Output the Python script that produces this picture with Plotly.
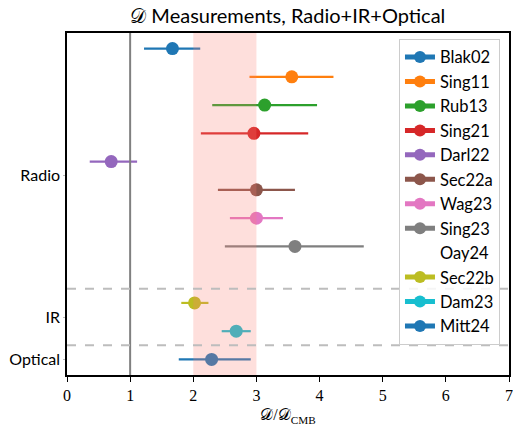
import plotly.graph_objects as go

labels = ["Blak02", "Sing11", "Rub13", "Sing21", "Darl22", "Sec22a", "Wag23",
          "Sing23", "Oay24", "Sec22b", "Dam23", "Mitt24"]
centers = [1.67, 3.56, 3.13, 2.96, 0.70, 3.00, 3.00, 3.61, None, 2.02, 2.68, 2.29]
err_lo = [0.45, 0.67, 0.83, 0.84, 0.34, 0.61, 0.42, 1.11, None, 0.21, 0.23, 0.52]
err_hi = [0.44, 0.66, 0.83, 0.86, 0.41, 0.61, 0.42, 1.09, None, 0.22, 0.23, 0.62]
rows = list(range(len(labels)))

group_names = ["Radio", "IR", "Optical"]
group_pos = [4.5, 9.5, 11]
separators = [8.5, 10.5]
band = [2, 3]
ref_line = 1

colors = ["#1f77b4", "#ff7f0e", "#2ca02c", "#d62728", "#9467bd", "#8c564b",
          "#e377c2", "#7f7f7f", "rgba(0,0,0,0)", "#bcbd22", "#17becf", "#1f77b4"]

fig = go.Figure()
for i, name in enumerate(labels):
    c = colors[i]
    x = [centers[i]] if centers[i] is not None else [None]
    fig.add_trace(go.Scatter(
        x=x, y=[rows[i]], name=name, mode="lines+markers",
        marker=dict(color=c, size=13),
        line=dict(color=c, width=2),
        error_x=dict(type="data", symmetric=False,
                     array=[err_hi[i] if err_hi[i] is not None else 0],
                     arrayminus=[err_lo[i] if err_lo[i] is not None else 0],
                     color=c, thickness=2.2, width=0),
    ))

fig.add_vrect(x0=band[0], x1=band[1], fillcolor="salmon", opacity=0.25,
              line_width=0, layer="above")
fig.add_vline(x=ref_line, line=dict(color="#808080", width=2), layer="above")
for s in separators:
    fig.add_hline(y=s, line=dict(color="#bdbdbd", width=2, dash="dash"), layer="above")

fig.update_layout(
    width=513, height=426,
    margin=dict(l=67, r=4, t=33, b=51, autoexpand=False),
    paper_bgcolor="white", plot_bgcolor="white",
    title=dict(text="𝒟 Measurements, Radio+IR+Optical", x=0.561, xanchor="center",
               y=0.962, yanchor="middle",
               font=dict(family="Lato", size=20, color="black")),
    showlegend=True,
    legend=dict(x=0.9796, xanchor="right", y=0.983, yanchor="top",
                bgcolor="rgba(255,255,255,0.85)", bordercolor="#cccccc", borderwidth=1,
                font=dict(family="Lato", size=16.5, color="black"),
                itemsizing="constant"),
    xaxis=dict(range=[0, 7], tickvals=list(range(8)), ticks="outside", ticklen=5,
               tickwidth=1.2, tickcolor="black", showgrid=False, zeroline=False,
               showline=True, linecolor="black", linewidth=1.5, mirror=True,
               automargin=False,
               tickfont=dict(family="Liberation Serif", size=16, color="black"),
               title=dict(text="𝒟/𝒟<sub>CMB</sub>", standoff=6,
                          font=dict(family="Liberation Serif", size=16, color="black"))),
    yaxis=dict(range=[11.55, -0.55], tickvals=group_pos, ticktext=group_names,
               ticks="outside", ticklen=2, tickcolor="#bbbbbb", showgrid=False,
               zeroline=False, showline=True, linecolor="black", linewidth=1.5,
               automargin=False,
               mirror=True, tickfont=dict(family="Lato", size=16, color="black")),
)

fig.write_html("out.html")
